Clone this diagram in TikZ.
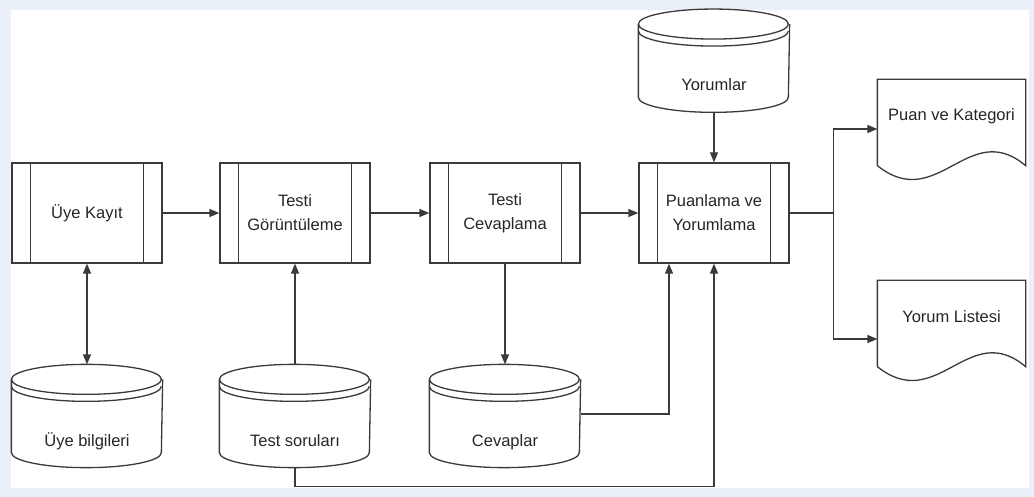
\documentclass[tikz,border=0pt]{standalone}
\usepackage{fontspec}
\setmainfont{Liberation Sans}
\usepackage{xcolor}
\usepackage{tikz}
\usetikzlibrary{arrows.meta, positioning, calc}
\definecolor{framebg}{HTML}{EAF0F8}
\definecolor{linegray}{HTML}{3A3A3A}

% database drum and document outline, drawn over a named node
\newcommand{\drawstore}[1]{%
  \draw ([yshift=-15pt]#1.north west) arc[start angle=180, end angle=-180, x radius=75pt, y radius=15pt];
  \draw ([yshift=-22pt]#1.north west) arc[start angle=180, end angle=360, x radius=75pt, y radius=15pt];
  \draw ([yshift=-15pt]#1.north west) -- ([yshift=15pt]#1.south west)
    arc[start angle=180, end angle=360, x radius=75pt, y radius=15pt] -- ([yshift=-15pt]#1.north east);
}
\newcommand{\drawreport}[1]{%
  \draw (#1.south west) -- (#1.north west) -- (#1.north east) -- (#1.south east)
    .. controls +(-57pt,48pt) and +(60pt,-48pt) .. (#1.south west);
}
\newcommand{\lowtext}[1]{\raisebox{-30pt}[0pt][0pt]{#1}}
\newcommand{\hightext}[1]{\raisebox{1.5pt}[0pt][0pt]{#1}}

\begin{document}
\begin{tikzpicture}[
    x=1pt, y=-1pt,
    font=\fontsize{16.5}{24}\selectfont,
    line width=1.3pt,
    color=linegray, text=black!85,
    >={Triangle[length=10pt, width=8pt]},
    proc/.style={rectangle, draw, minimum width=150pt, minimum height=100pt, align=center, inner sep=0pt,
      append after command={
        ([xshift=19pt]\tikzlastnode.north west) edge ([xshift=19pt]\tikzlastnode.south west)
        ([xshift=-19pt]\tikzlastnode.north east) edge ([xshift=-19pt]\tikzlastnode.south east)}},
    store/.style={rectangle, minimum width=150pt, minimum height=102pt, align=center, inner sep=0pt},
    report/.style={rectangle, minimum width=147pt, minimum height=85pt, align=center, inner sep=0pt},
]
    % frame
    \fill[framebg] (0,0) rectangle (1034,497);
    \fill[white] (11,10) rectangle (1029,488);

    % processes
    \node[proc] (kayit) at (87,213) {Üye Kayıt};
    \node[proc, right=56.7pt of kayit] (goruntu) {Testi\\Görüntüleme};
    \node[proc, right=58.7pt of goruntu] (cevapla) {Testi\\Cevaplama};
    \node[proc, right=57.7pt of cevapla] (puan) {Puanlama ve\\Yorumlama};

    % data stores
    \node[store, below=100.7pt of kayit] (uyebilgi) {\lowtext{Üye bilgileri}};
    \node[store, below=100.7pt of goruntu] (sorular) {\lowtext{Test soruları}};
    \node[store, below=100.7pt of cevapla] (cevaplar) {\lowtext{Cevaplar}};
    \node[store, above=50pt of puan] (yorumlar) {\lowtext{Yorumlar}};
    \drawstore{uyebilgi}
    \drawstore{sorular}
    \drawstore{cevaplar}
    \drawstore{yorumlar}

    % reports
    \node[report] (puankat) at (951.5,122.5) {\hightext{Puan ve Kategori}};
    \node[report] (liste) at (951.5,323.5) {\hightext{Yorum Listesi}};
    \drawreport{puankat}
    \drawreport{liste}

    % flow
    \draw[->] (kayit) -- (goruntu);
    \draw[->] (goruntu) -- (cevapla);
    \draw[->] (cevapla) -- (puan);
    \draw[<->] (kayit) -- (uyebilgi);
    \draw[->] (sorular) -- (goruntu);
    \draw[->] (cevapla) -- (cevaplar);
    \draw[->] (yorumlar) -- (puan);
    \draw[->] ([yshift=2pt]cevaplar.east) -| ([xshift=-45pt]puan.south);
    \draw[->] (sorular.south) -- ++(0,19) -| (puan.south);

    \coordinate (split) at ($(puan.east)+(44pt,0)$);
    \draw (puan.east) -- (split);
    \draw[->] (split) |- ([yshift=-6.5pt]puankat.west);
    \draw[->] (split) |- ([yshift=-15.5pt]liste.west);
\end{tikzpicture}
\end{document}
